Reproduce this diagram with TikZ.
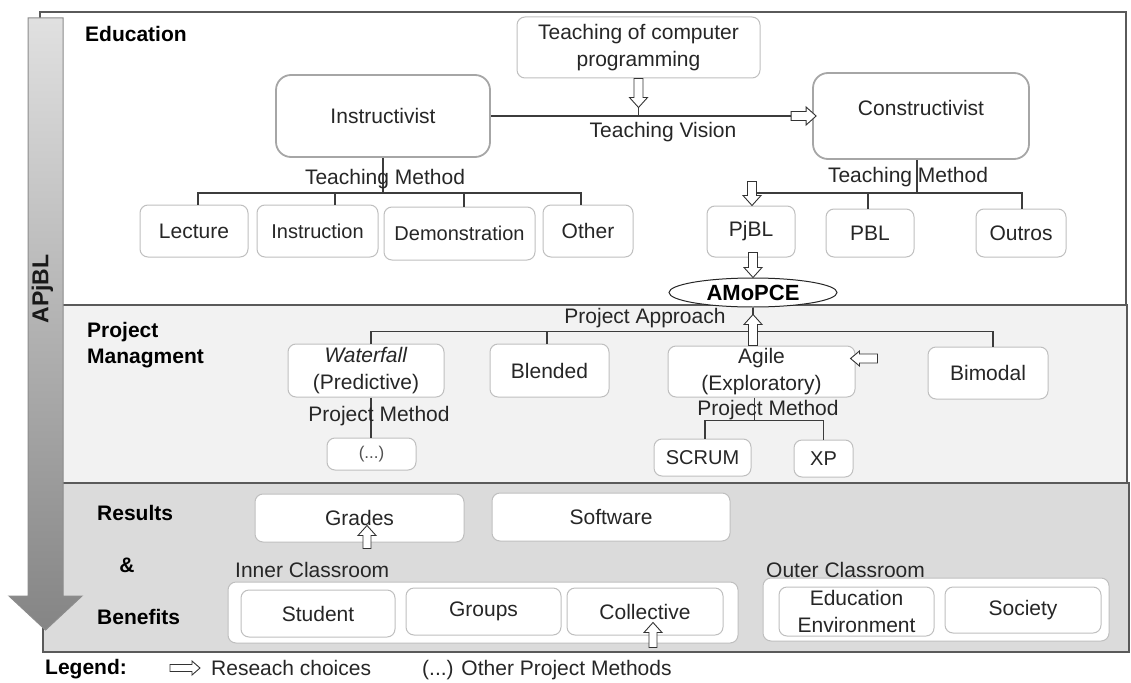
\documentclass[tikz,border=0pt]{standalone}
\usepackage{fontspec}
\setmainfont{Liberation Sans}
\usetikzlibrary{calc,shapes.geometric}
\definecolor{txt}{HTML}{262626}
\definecolor{bord}{HTML}{BFBFBF}
\definecolor{bigbord}{HTML}{A6A6A6}
\definecolor{treec}{HTML}{3C3C3C}
\definecolor{secc}{HTML}{5A5A5A}
\definecolor{pmfill}{HTML}{F2F2F2}
\definecolor{rbfill}{HTML}{DBDBDB}
\newcommand\fA{\fontsize{21}{26.5}\selectfont}
\newcommand\fB{\fontsize{20}{24}\selectfont}
\def\bas{4.5pt}\def\bah{9pt}\def\bal{10pt}
\begin{document}
\begin{tikzpicture}[x=1pt,y=-1pt,
  box/.style={draw=bord, fill=white, line width=1pt, rounded corners=8pt, inner sep=0pt, align=center, text=txt, font=\fA},
  bigbox/.style={box, draw=bigbord, line width=1.8pt, rounded corners=15pt},
  lab/.style={inner sep=0pt, text=txt, font=\fA},
  sec/.style={inner sep=0pt, text=black, font=\fA\bfseries, align=left},
  treeln/.style={draw=treec, line width=1.2pt},
  sect/.style={draw=secc, line width=2.4pt},
  arrs/.code={\def\bas{#1}}, arrh/.code={\def\bah{#1}}, arrl/.code={\def\bal{#1}},
  barrow/.style={draw=black!80, fill=white, line width=0.9pt, line join=miter,
    to path={let \p1=(\tikztostart), \p2=(\tikztotarget), \p3=($(\p2)!\bal!(\p1)$) in
      ($(\p1)!\bas!90:(\p2)$) -- ($(\p3)!\bas!90:(\p2)$) -- ($(\p3)!\bah!90:(\p2)$) -- (\p2)
      -- ($(\p3)!\bah!-90:(\p2)$) -- ($(\p3)!\bas!-90:(\p2)$) -- ($(\p1)!\bas!-90:(\p2)$) -- cycle}},
]
\useasboundingbox (0,0) rectangle (1131,682);
\fill[white] (0,0) rectangle (1131,682);

% sections
\draw[sect, fill=white] (40,12) rectangle (1126,305);
\draw[sect, fill=pmfill] (40,305) rectangle (1127,483);
\draw[sect, fill=rbfill] (43,483) rectangle (1129,652);

% section labels
\node[sec, anchor=west] (lEdu) at (85,34) {Education};
\node[sec, anchor=west] (lPM) at (87,345) {Project\\Managment};
\node[sec, anchor=west] (lRes) at (97,513) {Results};
\node[sec] (lAmp) at (127,565) {\&};
\node[sec, anchor=west] (lBen) at (97,617) {Benefits};
\node[sec, anchor=base west] (lLeg) at (45,674) {Legend:};

% ===== Education =====
\node[box, minimum width=243, minimum height=61] (tcp) at (638.5,47.5) {Teaching of computer\\programming};
\node[bigbox, minimum width=214, minimum height=82] (ins) at (383,116) {Instructivist};
\node[bigbox, minimum width=216, minimum height=86, text height=15pt, text depth=16pt] (cons) at (921,116) {Constructivist};
\draw[treeln] (ins.east) -- (cons.west);
\draw[treeln] (tcp.south) -- (tcp.south |- ins.east);
\draw[barrow] (tcp.south) to ($(tcp.south)+(0,29)$);
\draw[barrow] ($(cons.west)+(-21,0)$) to ($(cons.west)+(4,0)$);
\node[lab] (tv) at (663,132) {Teaching Vision};

% left teaching methods
\coordinate (tl) at ($(ins.south)+(0,35)$);
\node[box, minimum width=108, minimum height=52] (lec) at (194,231) {Lecture};
\node[box, minimum width=121, minimum height=52, font=\fB] (inst) at (317.5,231) {Instruction};
\node[box, minimum width=151, minimum height=53, font=\fB] (demo) at (459.5,233.5) {Demonstration};
\node[box, minimum width=90, minimum height=52] (oth) at (588,231) {Other};
\draw[treeln] (ins.south) -- (tl);
\draw[treeln] ($(lec.north)+(4,0)$) |- (tl);
\draw[treeln] ($(oth.north)+(-7,0)$) |- (tl);
\draw[treeln] ($(inst.north)+(17.5,0)$) |- (tl);
\draw[treeln] ($(demo.north)+(4.5,0)$) |- (tl);
\node[lab] (tm1) at (385,179) {Teaching Method};

% right teaching methods
\coordinate (tr) at ($(cons.south)+(-4,33)$);
\node[box, minimum width=88, minimum height=51] (pjbl) at (751,231.5) {PjBL};
\node[box, minimum width=88, minimum height=48] (pbl) at (870,233) {PBL};
\node[box, minimum width=90, minimum height=48] (outr) at (1021,233) {Outros};
\coordinate (dOut) at ($(outr.north)+(1,0)$);
\draw[treeln] ($(cons.south)+(-4,0)$) -- (tr);
\draw[treeln] (pjbl.north |- tr) -| (dOut);
\draw[treeln] ($(pbl.north)+(-2,0)$) |- (tr);
\node[lab] (tm2) at (908,177) {Teaching Method};
\draw[barrow] ($(pjbl.north)+(1,-24)$) to ($(pjbl.north)+(1,0)$);

% AMoPCE
\node[ellipse, draw=black!85, fill=white, line width=1pt, minimum width=168, minimum height=29, inner sep=0pt, font=\fontsize{22}{26}\selectfont\bfseries, text=black] (amo) at (753,292.5) {AMoPCE};
\draw[barrow] ($(amo.north |- pjbl.south)+(0,-5)$) to (amo.north);

% ===== Project management =====
\node[lab] (pap) at (645,318) {Project Approach};
\coordinate (pa) at ($(amo.south)+(0,24)$);
\node[box, minimum width=156, minimum height=53] (wf) at (366,370.5) {\textit{Waterfall}\\(Predictive)};
\node[box, minimum width=119, minimum height=53] (blend) at (549.5,370.5) {Blended};
\node[box, minimum width=187, minimum height=51] (agile) at (761.5,371.5) {Agile\\(Exploratory)};
\node[box, minimum width=120, minimum height=52] (bim) at (988,373) {Bimodal};
\coordinate (dWf) at ($(wf.north)+(5,0)$);
\coordinate (dBim) at ($(bim.north)+(5,0)$);
\draw[treeln] (dWf) |- (pa) -| (dBim);
\draw[treeln] ($(blend.north)+(-2.5,0)$) |- (pa);
\draw[treeln] (amo.south) -- (amo.south |- agile.north);
\draw[barrow] (amo.south |- agile.north) to ($(amo.south |- agile.north)+(0,-31)$);
\draw[barrow, arrh=7.5pt, arrl=9pt] ($(agile.east)+(22,-13)$) to ($(agile.east)+(-5,-13)$);

% waterfall method
\node[box, minimum width=89, minimum height=32, font=\fontsize{17}{20}\selectfont, text=txt!80] (dots) at (371.5,454) {(...)};
\draw[treeln] (dWf |- wf.south) -- (dWf |- dots.north);
\node[lab] (pm1) at (379,416) {Project Method};

% agile methods
\coordinate (am) at ($(agile.south)+(-7,23)$);
\node[box, minimum width=97, minimum height=37, font=\fB] (scrum) at (702.5,457.5) {SCRUM};
\node[box, minimum width=59, minimum height=37, font=\fB] (xp) at (823.5,458.5) {XP};
\draw[treeln] ($(agile.south)+(-7,0)$) -- (am);
\draw[treeln] ($(scrum.north)+(2.5,0)$) |- (am);
\draw[treeln] (xp.north) |- (am);
\node[lab] (pm2) at (768,410) {Project Method};

% ===== Results & Benefits =====
\node[box, minimum width=209, minimum height=48] (grades) at (359.5,518) {Grades};
\node[box, minimum width=238, minimum height=48] (soft) at (611,517) {Software};
\node[lab, anchor=west] (inner) at (235,570) {Inner Classroom};
\node[box, minimum width=510, minimum height=61] (ingrp) at (483,612.5) {};
\node[box, minimum width=154, minimum height=47] (stud) at (318,613.5) {Student};
\node[box, minimum width=155, minimum height=47] (grps) at (483.5,611.5) {Groups};
\node[box, minimum width=156, minimum height=47] (coll) at (645,611.5) {Collective};
\node[lab, anchor=west] (outer) at (766,570) {Outer Classroom};
\node[box, minimum width=346, minimum height=63] (outgrp) at (936,609.5) {};
\node[box, minimum width=155, minimum height=49] (eduenv) at (856.5,611.5) {Education\\Environment};
\node[box, minimum width=156, minimum height=46] (soc) at (1023,610) {Society};
\draw[barrow, arrs=4pt] ($(grades.south)+(7.5,6)$) to ($(grades.south)+(7.5,-17)$);
\draw[barrow, arrs=4pt] ($(coll.south)+(8,12)$) to ($(coll.south)+(8,-13)$);

% ===== APjBL arrow =====
\draw[draw=black!45, line width=1pt, top color=black!12, bottom color=black!48]
  (28,18) -- (63,18) -- (63,596) -- (82,596) -- (45.5,630) -- (9,596) -- (28,596) -- cycle;
\node[rotate=90, inner sep=0pt, font=\fontsize{23}{27}\selectfont\bfseries, text=black!90] (apjbl) at (42.5,289) {APjBL};

% ===== Legend =====
\coordinate (lga) at (170,668);
\draw[barrow, arrs=3.5pt, arrh=7pt, arrl=8pt] (lga) to ($(lga)+(30,0)$);
\node[lab, anchor=base west] (lrc) at (211,675) {Reseach choices};
\node[lab, anchor=base west] (lop) at (422,675) {(...) Other Project Methods};
\end{tikzpicture}
\end{document}
